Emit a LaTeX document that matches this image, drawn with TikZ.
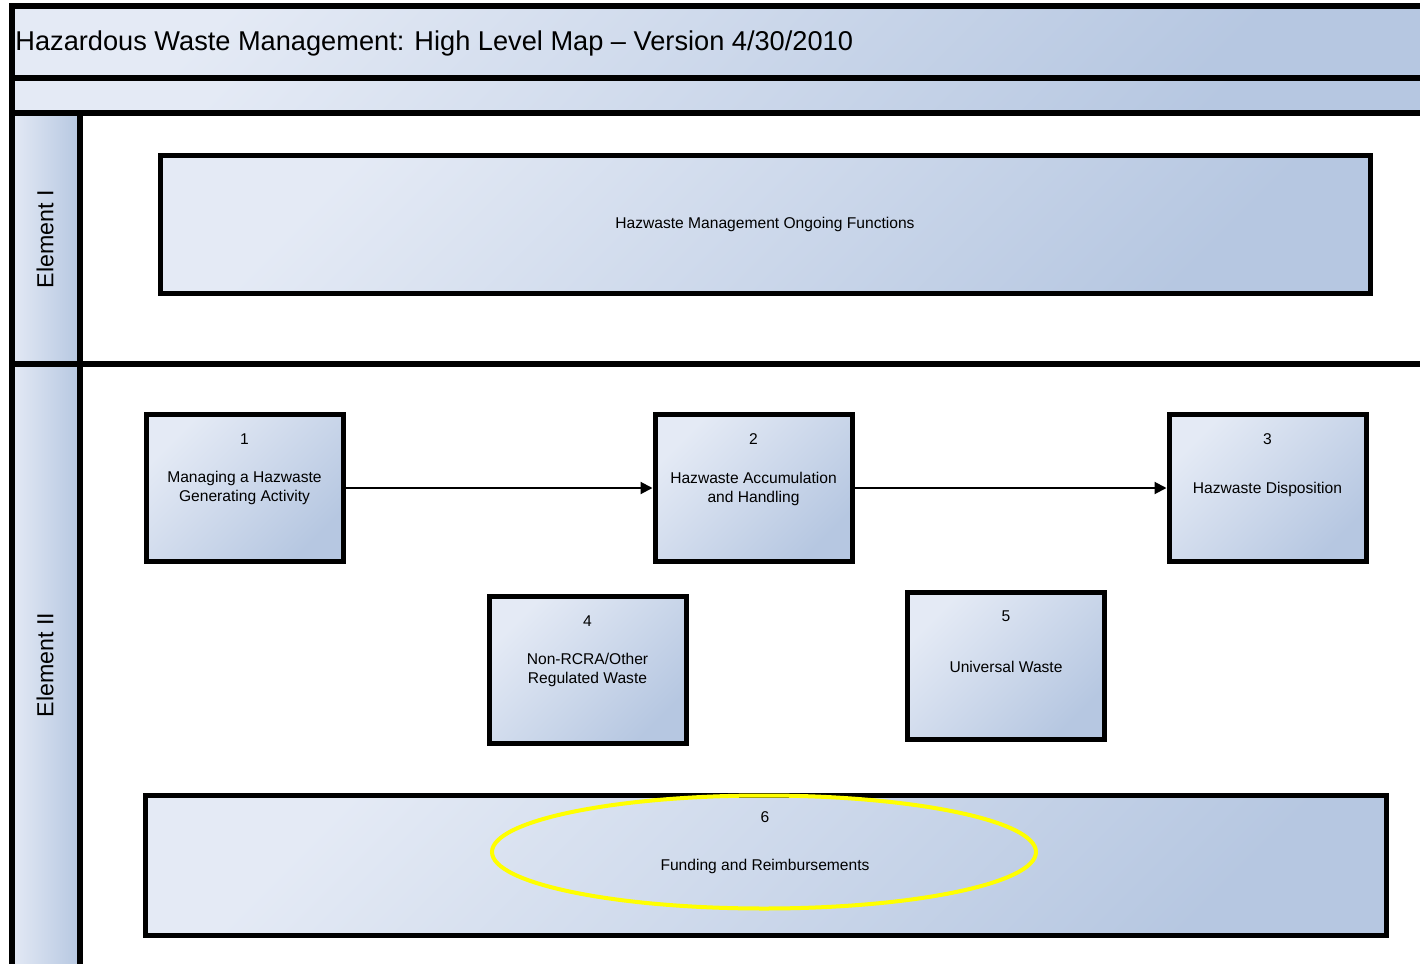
\documentclass[tikz,border=0pt]{standalone}
\usepackage{fontspec}
\setmainfont{Liberation Sans}
\usetikzlibrary{arrows.meta,shapes.geometric}
\definecolor{gl}{HTML}{E4EAF5}
\definecolor{gd}{HTML}{B6C7E1}
\definecolor{hl}{HTML}{FFFF00}
\begin{document}
\begin{tikzpicture}[x=0.5pt,y=-0.5pt,
  grad/.style={top color=gl, bottom color=gd, shading angle=45},
  hgrad/.style={left color=gl, right color=gd},
  frame/.style={line width=3pt, draw=black},
  box/.style={draw=black, line width=2.5pt, grad, minimum width=98.5pt, minimum height=73.5pt, inner sep=0pt},
  txt/.style={font=\fontsize{7.8}{9.3}\selectfont, align=center, inner sep=0pt},
  flow/.style={line width=1pt, draw=black, -{Triangle[length=6pt,width=6pt]}},
  lanetxt/.style={font=\fontsize{11.6}{14}\selectfont, rotate=90, inner sep=0pt},
  ringstyle/.style={ellipse, draw=hl, line width=2pt, minimum width=272pt, minimum height=56.5pt, inner sep=0pt}
]
\useasboundingbox (0,0) rectangle (1420,964);
% pool bands
\shade[grad] (11,6) rectangle (1420,78);
\shade[grad] (11,78) rectangle (1420,113);
\shade[hgrad] (11,113) rectangle (80,363);
\shade[hgrad] (11,363) rectangle (80,964);
% frame lines
\draw[frame, line join=miter] (11.5,964) -- (11.5,6) -- (1420,6);
\draw[frame] (11.5,77.5) -- (1420,77.5);
\draw[frame] (11.5,113) -- (1420,113);
\draw[frame] (80,113) -- (80,964);
\draw[frame] (11.5,363.5) -- (1420,363.5);
% title and lane labels
\node[anchor=west, inner sep=0pt, font=\fontsize{13.6}{16}\selectfont] (title) at (15,43) {Hazardous Waste Management: High Level Map – Version 4/30/2010};
\node[lanetxt] (e1) at (45,239) {Element I};
\node[lanetxt] (e2) at (45,665) {Element II};
% boxes
\node[box, minimum width=605pt, minimum height=69pt] (top) at (765,224) {};
\node[txt] (topt) at (765,224) {Hazwaste Management Ongoing Functions};

\node[box] (b1) at (244.5,488) {};
\node[txt] (b1n) at (244.5,439) {1};
\node[txt] (b1t) at (244.5,488) {Managing a Hazwaste\\Generating Activity};

\node[box] (b2) at (753.5,488) {};
\node[txt] (b2n) at (753.5,439) {2};
\node[txt] (b2t) at (753.5,489) {Hazwaste Accumulation\\and Handling};

\node[box] (b3) at (1267.5,488) {};
\node[txt] (b3n) at (1267.5,439) {3};
\node[txt] (b3t) at (1267.5,489) {Hazwaste Disposition};

\node[box] (b4) at (587.5,670) {};
\node[txt] (b4n) at (587.5,621) {4};
\node[txt] (b4t) at (587.5,670) {Non-RCRA/Other\\Regulated Waste};

\node[box] (b5) at (1006,665.5) {};
\node[txt] (b5n) at (1006,616) {5};
\node[txt] (b5t) at (1006,667) {Universal Waste};

\node[box, minimum width=620.5pt, minimum height=70pt] (b6) at (765.5,865) {};
\node[txt] (b6n) at (765,817) {6};
\node[txt] (b6t) at (765,866) {Funding and Reimbursements};
\node[ringstyle] (ring) at (764,852) {};
% connectors
\draw[flow] (b1) -- (b2);
\draw[flow] (b2) -- (b3);
\end{tikzpicture}
\end{document}
